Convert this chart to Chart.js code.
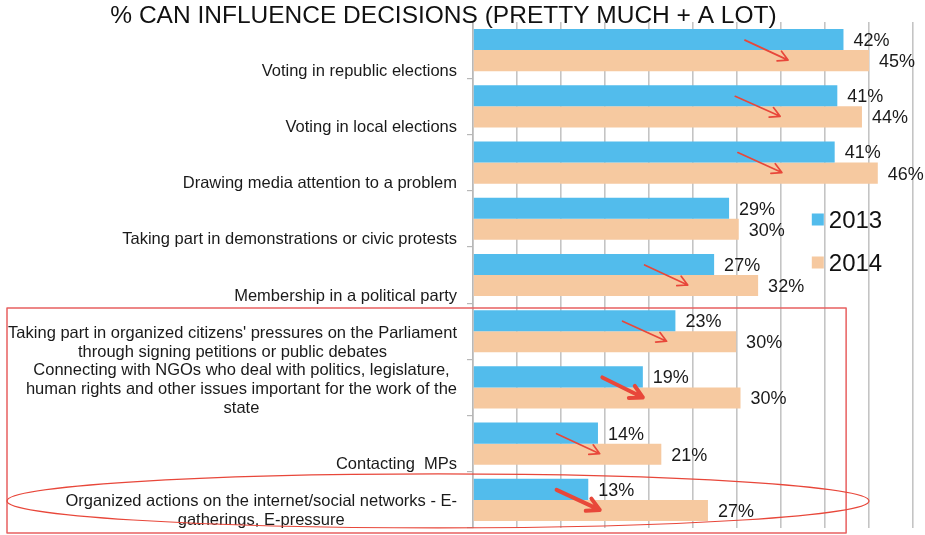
<!DOCTYPE html>
<html>
<head>
<meta charset="utf-8">
<script src="https://cdn.jsdelivr.net/npm/chart.js"></script>
<style>
  html, body { margin: 0; padding: 0; background: #fff; }
  #wrap { width: 925px; height: 535px; }
</style>
</head>
<body>
<div id="wrap"><canvas id="chart" width="925" height="535"></canvas></div>
<script>
// ── DATA ────────────────────────────────────────
const categories = [
  ['Voting in republic elections'],
  ['Voting in local elections'],
  ['Drawing media attention to a problem'],
  ['Taking part in demonstrations or civic protests'],
  ['Membership in a political party'],
  ["Taking part in organized citizens' pressures on the Parliament", 'through signing petitions or public debates'],
  ['Connecting with NGOs who deal with politics, legislature,', 'human rights and other issues important for the work of the', 'state'],
  ['Contacting  MPs'],
  ['Organized actions on the internet/social networks - E-', 'gatherings, E-pressure']
];
const seriesNames = ['2013', '2014'];
const values2013 = [42.1, 41.4, 41.1, 29.1, 27.4, 23.0, 19.3, 14.2, 13.1];
const values2014 = [45.0, 44.2, 46.0, 30.2, 32.4, 29.9, 30.4, 21.4, 26.7];
const xMax = 50;
const xStep = 5;
const title = '% CAN INFLUENCE DECISIONS (PRETTY MUCH + A LOT)';

// red arrows drawn over the bars (category index, from/to in % units, bold)
const arrowCat  = [0, 1, 2, 4, 5, 6, 7, 8];
const arrowFrom = [30.9, 29.8, 30.1, 19.5, 17.0, 14.7, 9.5, 9.5];
const arrowTo   = [35.8, 34.9, 35.1, 24.4, 22.0, 19.3, 14.4, 14.4];
const arrowBold = [false, false, false, false, false, true, false, true];

const BLUE = '#52BCEC';
const PEACH = '#F6C9A0';
const RED = '#E8473A';
const FONT = '"Liberation Sans", Arial, sans-serif';

// ── DRAWING PLUGIN ──────────────────────────────
const extras = {
  id: 'extras',
  afterDatasetsDraw(chart) {
    const ctx = chart.ctx;
    const xs = chart.scales.x, ys = chart.scales.y, area = chart.chartArea;
    const half = (ys.getPixelForValue(1) - ys.getPixelForValue(0)) / 2;
    ctx.save();

    // value labels
    ctx.font = '18px ' + FONT;
    ctx.fillStyle = '#1a1a1a';
    ctx.textAlign = 'left';
    ctx.textBaseline = 'middle';
    chart.data.datasets.forEach((ds, di) => {
      chart.getDatasetMeta(di).data.forEach((bar, i) => {
        ctx.fillText(Math.round(ds.data[i]) + '%', bar.x + 10, bar.y + 1.5);
      });
    });

    // category labels
    ctx.font = '16.5px ' + FONT;
    ctx.textAlign = 'center';
    categories.forEach((lines, i) => {
      const c = ys.getPixelForValue(i);
      const w = Math.max(...lines.map(l => ctx.measureText(l).width));
      const cx = area.left - 16 - w / 2;
      lines.forEach((l, j) => {
        ctx.fillText(l, cx, c + 21 - (lines.length - 1 - j) * 19);
      });
    });

    // arrows
    ctx.strokeStyle = RED;
    ctx.lineCap = 'round';
    ctx.lineJoin = 'round';
    arrowCat.forEach((ci, k) => {
      const c = ys.getPixelForValue(ci);
      const x1 = xs.getPixelForValue(arrowFrom[k]), y1 = c - 10;
      const x2 = xs.getPixelForValue(arrowTo[k]), y2 = c + 10;
      const a = Math.atan2(y2 - y1, x2 - x1);
      const hl = arrowBold[k] ? 14 : 11;
      ctx.lineWidth = arrowBold[k] ? 4 : 1.7;
      ctx.beginPath();
      ctx.moveTo(x1, y1); ctx.lineTo(x2, y2);
      ctx.moveTo(x2 - hl * Math.cos(a - 0.5), y2 - hl * Math.sin(a - 0.5));
      ctx.lineTo(x2, y2);
      ctx.lineTo(x2 - hl * Math.cos(a + 0.5), y2 - hl * Math.sin(a + 0.5));
      ctx.stroke();
    });

    // red box round the last four categories
    ctx.lineWidth = 1.5;
    ctx.strokeStyle = '#E86060';
    const boxTop = ys.getPixelForValue(5) - half + 5;
    const boxRight = xs.getPixelForValue(42.4);
    ctx.strokeRect(7, boxTop, boxRight - 7, area.bottom + 5 - boxTop);

    // ellipse round the last category
    const eRight = xs.getPixelForValue(45);
    ctx.lineWidth = 1.2;
    ctx.strokeStyle = RED;
    ctx.beginPath();
    ctx.ellipse((7 + eRight) / 2, ys.getPixelForValue(8) + 1, (eRight - 7) / 2, 27, 0, 0, Math.PI * 2);
    ctx.stroke();

    // legend
    ctx.font = '24px ' + FONT;
    ctx.textAlign = 'left';
    const lx = xs.getPixelForValue(38.5);
    [221.5, 264.5].forEach((ly, di) => {
      const ds = chart.data.datasets[di];
      ctx.fillStyle = ds.backgroundColor;
      ctx.fillRect(lx, ly - 8, 12, 12);
      ctx.fillStyle = '#111';
      ctx.fillText(ds.label, lx + 17, ly);
    });

    // title
    ctx.font = '24.5px ' + FONT;
    ctx.textAlign = 'center';
    ctx.fillStyle = '#111';
    ctx.fillText(title, 443.5, 16);
    ctx.restore();
  }
};

new Chart(document.getElementById('chart'), {
  type: 'bar',
  data: {
    labels: categories,
    datasets: [
      { label: seriesNames[0], data: values2013, backgroundColor: BLUE },
      { label: seriesNames[1], data: values2014, backgroundColor: PEACH }
    ]
  },
  options: {
    indexAxis: 'y',
    responsive: false,
    animation: false,
    devicePixelRatio: 1,
    categoryPercentage: 0.75,
    barPercentage: 1.0,
    layout: { padding: { left: 0, right: 12, top: 22, bottom: 7 } },
    plugins: { legend: { display: false }, tooltip: { enabled: false } },
    scales: {
      x: {
        min: 0, max: xMax,
        ticks: { display: false, stepSize: xStep },
        grid: { color: '#C4C4C4', lineWidth: 1.6, drawTicks: false },
        border: { display: false },
        afterFit(s) { s.height = 0; }
      },
      y: {
        ticks: { display: false },
        grid: { drawOnChartArea: false, drawTicks: true, tickLength: 6, color: '#B8B8B8', lineWidth: 1.2 },
        border: { display: true, color: '#B8B8B8', width: 1.5 },
        afterFit(s) { s.width = 473; }
      }
    }
  },
  plugins: [extras]
});
</script>
</body>
</html>
